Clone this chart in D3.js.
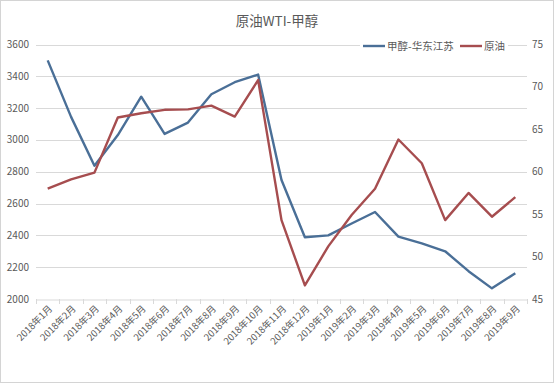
<!DOCTYPE html>
<html><head><meta charset="utf-8">
<script src="https://cdn.jsdelivr.net/npm/d3@7"></script>
<style>body{margin:0;background:#fff;}svg{display:block;font-family:"Noto Sans CJK SC","Noto Sans",sans-serif;}</style>
</head><body>
<svg id="c" width="554" height="383"></svg>
<script>
const categories = ["2018年1月","2018年2月","2018年3月","2018年4月","2018年5月","2018年6月","2018年7月","2018年8月","2018年9月","2018年10月","2018年11月","2018年12月","2019年1月","2019年2月","2019年3月","2019年4月","2019年5月","2019年6月","2019年7月","2019年8月","2019年9月"];
const methanol = [3500,3145,2838,3031,3272,3038,3109,3287,3363,3411,2748,2388,2400,2475,2547,2392,2350,2300,2175,2067,2162];
const crude = [58.0,59.1,59.9,66.4,66.9,67.3,67.35,67.8,66.5,70.8,54.3,46.6,51.2,54.9,58.0,63.8,61.0,54.3,57.5,54.7,57.0];
const leftTicks = [2000,2200,2400,2600,2800,3000,3200,3400,3600];
const rightTicks = [45,50,55,60,65,70,75];
const seriesNames = ["甲醇-华东江苏","原油"];
const colors = ["#4a6f97","#a64d4f"];

const svg = d3.select("#c");
const W = 554, H = 383;
svg.append("rect").attr("x",0.5).attr("y",0.5).attr("width",W-1).attr("height",H-1).attr("fill","#fff").attr("stroke","#d4d4d4");

const x0 = 36, x1 = 527, yTop = 44.5, yBot = 299;
const x = d3.scaleBand().domain(categories).range([x0,x1]);
const yL = d3.scaleLinear().domain([2000,3600]).range([yBot,yTop]);
const yR = d3.scaleLinear().domain([45,75]).range([yBot,yTop]);
const txt = "#595959";

// gridlines
svg.append("g").selectAll("line").data(leftTicks.slice(1)).join("line")
  .attr("x1",x0).attr("x2",x1).attr("y1",d=>Math.round(yL(d))+0.5).attr("y2",d=>Math.round(yL(d))+0.5)
  .attr("stroke","#d9d9d9").attr("stroke-width",1);

// left axis labels
svg.append("g").selectAll("text").data(leftTicks).join("text")
  .attr("x",29).attr("y",d=>yL(d)).attr("dy","0.35em").attr("text-anchor","end")
  .attr("font-size",10).attr("fill",txt).text(d=>d);
// right axis labels
svg.append("g").selectAll("text").data(rightTicks).join("text")
  .attr("x",532).attr("y",d=>yR(d)).attr("dy","0.35em").attr("text-anchor","start")
  .attr("font-size",10).attr("fill",txt).text(d=>d);

// x axis
const xa = svg.append("g").attr("transform",`translate(0,${Math.round(yBot)+0.5})`)
  .call(d3.axisBottom(x).tickSize(0).tickFormat(""));
xa.select(".domain").attr("stroke","#d9d9d9");
const bounds = categories.map((c)=>x(c)).concat([x1]);
svg.append("g").selectAll("line").data(bounds).join("line")
  .attr("x1",d=>Math.round(d)+0.5).attr("x2",d=>Math.round(d)+0.5)
  .attr("y1",yBot).attr("y2",yBot+5).attr("stroke","#d9d9d9");
svg.append("g").selectAll("text").data(categories).join("text")
  .attr("transform",d=>`translate(${x(d)+x.bandwidth()/2+3},${yBot+8}) rotate(-45)`)
  .attr("text-anchor","end").attr("dy","0.35em").attr("font-size",9.5).attr("fill",txt).text(d=>d);

// lines
const lineL = d3.line().x((d,i)=>x(categories[i])+x.bandwidth()/2).y(d=>yL(d));
const lineR = d3.line().x((d,i)=>x(categories[i])+x.bandwidth()/2).y(d=>yR(d));
svg.append("path").datum(methanol).attr("d",lineL).attr("fill","none").attr("stroke",colors[0]).attr("stroke-width",2.4).attr("stroke-linejoin","round");
svg.append("path").datum(crude).attr("d",lineR).attr("fill","none").attr("stroke",colors[1]).attr("stroke-width",2.4).attr("stroke-linejoin","round");

// title
svg.append("text").attr("x",277).attr("y",26).attr("text-anchor","middle").attr("font-size",13.5).attr("fill",txt).text("原油WTI-甲醇");

// legend
const lg = svg.append("g");
lg.append("rect").attr("x",360).attr("y",38).attr("width",148).attr("height",16).attr("fill","#fff");
const lx = [363,460];
seriesNames.forEach((n,i)=>{
  lg.append("line").attr("x1",lx[i]).attr("x2",lx[i]+22).attr("y1",46).attr("y2",46).attr("stroke",colors[i]).attr("stroke-width",2.4);
  lg.append("text").attr("x",lx[i]+24).attr("y",46).attr("dy","0.35em").attr("font-size",10.5).attr("fill",txt).text(n);
});
</script>
</body></html>
